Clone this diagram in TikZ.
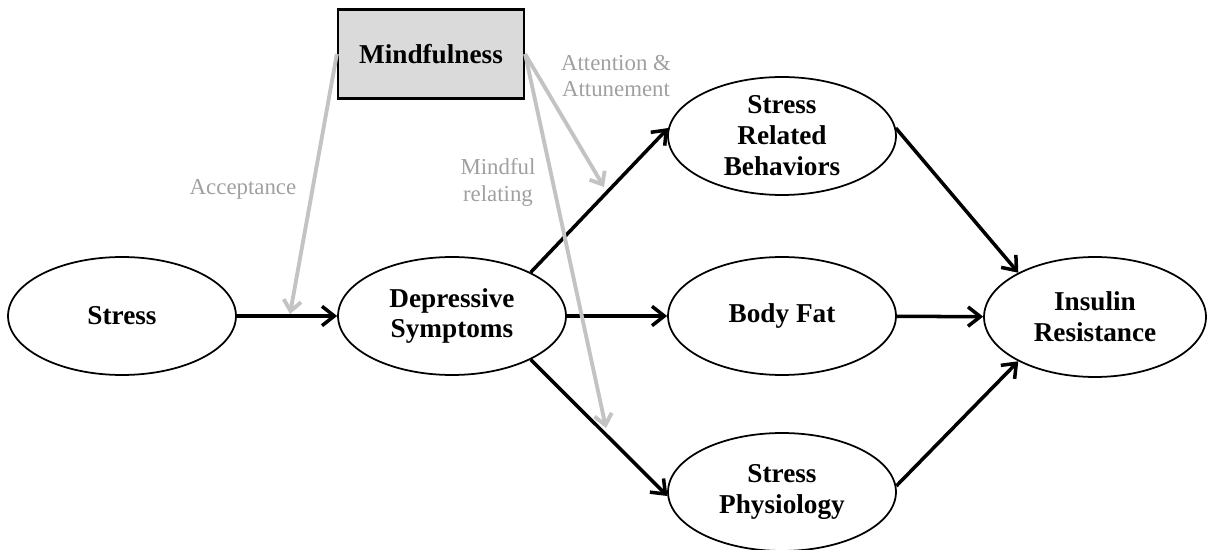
\documentclass[tikz,border=0pt]{standalone}
\usepackage{fontspec}
\setmainfont{Liberation Serif}
\usetikzlibrary{shapes.geometric,arrows.meta}

\definecolor{pathgray}{RGB}{195,195,195}
\definecolor{labelgray}{RGB}{160,160,160}
\definecolor{boxgray}{RGB}{218,218,218}

\begin{document}
\begin{tikzpicture}[x=0.02cm, y=-0.02cm,
    var/.style={ellipse, draw, line width=1pt, minimum width=4.56cm, minimum height=2.36cm,
                inner sep=0pt, align=center, font=\fontsize{15.5}{17.6}\selectfont\bfseries},
    link/.style={-{Straight Barb[length=7pt,width=11pt]}, line width=2pt},
    mind/.style={-{Straight Barb[length=6pt,width=10pt]}, pathgray, line width=2.2pt},
    lbl/.style={labelgray, align=center, font=\fontsize{13}{15.3}\selectfont}]
    \useasboundingbox (0,0) rectangle (1207,550);

    \draw
    (122, 316) node[var](S){Stress}
    (452, 316) node[var](D){Depressive\\Symptoms}
    (782, 136) node[var](B){Stress\\Related\\Behaviors}
    (782, 316) node[var](F){Body Fat}
    (782, 492) node[var](P){Stress\\Physiology}
    (1095, 317) node[var, minimum width=4.44cm, minimum height=2.4cm](I){Insulin\\Resistance}
    (431, 54) node[rectangle, draw, fill=boxgray, line width=1.3pt, minimum width=3.72cm,
                  minimum height=1.78cm, font=\fontsize{15.5}{17.6}\selectfont\bfseries](M){Mindfulness};

    \coordinate (acc) at (290, 314);
    \coordinate (att) at (604, 187);
    \coordinate (rel) at (606, 428);

    \draw[link] (S) -- (D);
    \draw[link] (D.29) -- (B.176);
    \draw[link] (D) -- (F);
    \draw[link] (D.-29) -- (P.182);
    \draw[link] (B.4) -- (I.150);
    \draw[link] (F) -- (I);
    \draw[link] (P.3) -- (I.210);

    \draw[mind] (M.west) -- (acc);
    \draw[mind] (M.east) -- (att);
    \draw[mind] (M.east) -- (rel);

    \node[lbl] (accL) at (243, 189) {Acceptance};
    \node[lbl] (attL) at (616, 76) {Attention \&\\Attunement};
    \node[lbl] (relL) at (498, 182) {Mindful\\relating};

  \end{tikzpicture}
\end{document}
